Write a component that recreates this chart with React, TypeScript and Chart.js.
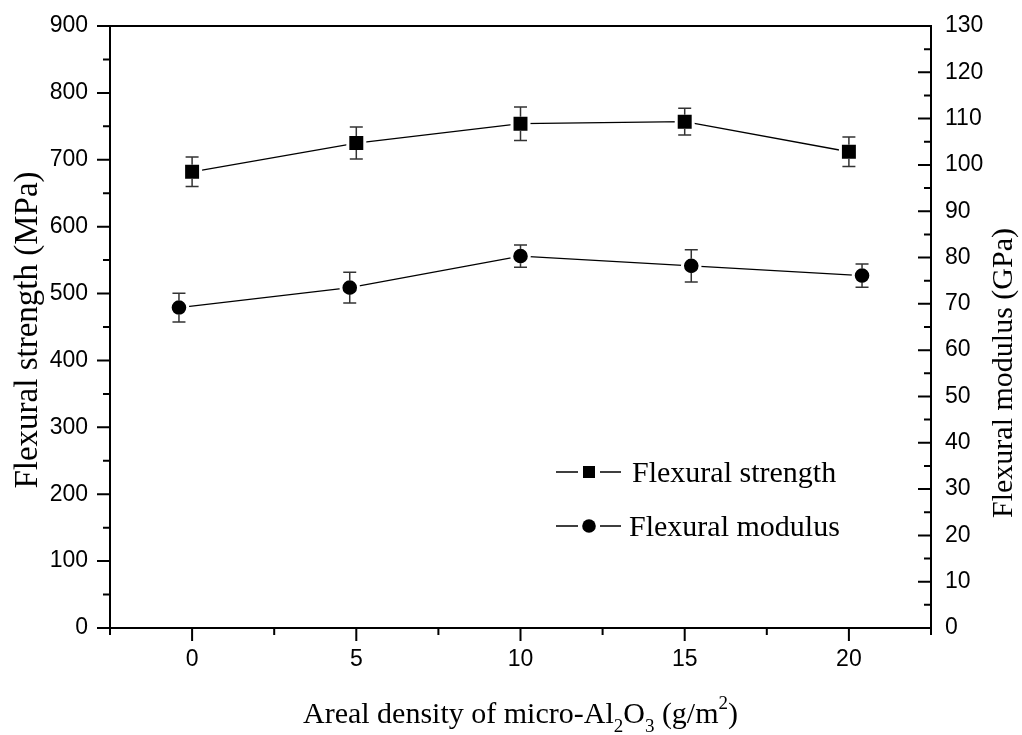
import React, { useEffect, useRef } from 'react';
import { Chart, registerables } from 'chart.js';

Chart.register(...registerables);

// ---- data ----
const strengthX = [0, 5, 10, 15, 20];
const strengthY = [682, 725, 754, 757, 712];
const strengthErr = [22, 24, 25, 20, 22];

const modulusX = [-0.4, 4.8, 10, 15.2, 20.4];
const modulusY = [69.2, 73.5, 80.3, 78.2, 76.1];
const modulusErr = [3.1, 3.3, 2.4, 3.5, 2.5];

const seriesLabels = ['Flexural strength', 'Flexural modulus'];

const xMajorTicks = [0, 5, 10, 15, 20];
const xMinorTicks = [-2.5, 2.5, 7.5, 12.5, 17.5, 22.5];
const leftMajorTicks = [0, 100, 200, 300, 400, 500, 600, 700, 800, 900];
const leftMinorTicks = [50, 150, 250, 350, 450, 550, 650, 750, 850];
const rightMajorTicks = [0, 10, 20, 30, 40, 50, 60, 70, 80, 90, 100, 110, 120, 130];
const rightMinorTicks = [5, 15, 25, 35, 45, 55, 65, 75, 85, 95, 105, 115, 125];

const leftTitle = 'Flexural strength (MPa)';
const rightTitle = 'Flexural modulus (GPa)';
const xTitleParts: { t: string; k: 'n' | 'sub' | 'sup' }[] = [
  { t: 'Areal density of micro-Al', k: 'n' },
  { t: '2', k: 'sub' },
  { t: 'O', k: 'n' },
  { t: '3', k: 'sub' },
  { t: ' (g/m', k: 'n' },
  { t: '2', k: 'sup' },
  { t: ')', k: 'n' },
];

const SERIF = '"Liberation Serif", "Times New Roman", serif';
const SANS = '"Liberation Sans", Arial, sans-serif';

const decorPlugin = {
  id: 'decor',
  afterDatasetsDraw(chart: any) {
    const ctx = chart.ctx as CanvasRenderingContext2D;
    const xs = chart.scales.x;
    const sets = [
      { xv: strengthX, yv: strengthY, ev: strengthErr, axis: 'y', half: 7 },
      { xv: modulusX, yv: modulusY, ev: modulusErr, axis: 'y1', half: 7 },
    ];
    ctx.save();
    ctx.strokeStyle = '#333';
    ctx.lineWidth = 1.5;
    for (const s of sets) {
      const ys = chart.scales[s.axis];
      s.xv.forEach((xv, i) => {
        const px = xs.getPixelForValue(xv);
        const pc = ys.getPixelForValue(s.yv[i]);
        const pt = ys.getPixelForValue(s.yv[i] + s.ev[i]);
        const pb = ys.getPixelForValue(s.yv[i] - s.ev[i]);
        ctx.beginPath();
        if (pc - s.half > pt) {
          ctx.moveTo(px, pt);
          ctx.lineTo(px, pc - s.half);
        }
        if (pc + s.half < pb) {
          ctx.moveTo(px, pc + s.half);
          ctx.lineTo(px, pb);
        }
        ctx.moveTo(px - 6.5, pt);
        ctx.lineTo(px + 6.5, pt);
        ctx.moveTo(px - 6.5, pb);
        ctx.lineTo(px + 6.5, pb);
        ctx.stroke();
      });
    }
    ctx.restore();
  },
  afterDraw(chart: any) {
    const ctx = chart.ctx as CanvasRenderingContext2D;
    const { left, right, top, bottom } = chart.chartArea;
    const xs = chart.scales.x;
    const yl = chart.scales.y;
    const yr = chart.scales.y1;
    ctx.save();
    ctx.strokeStyle = '#000';
    ctx.lineWidth = 2;
    // frame top
    ctx.beginPath();
    ctx.moveTo(left - 1, top);
    ctx.lineTo(right + 1, top);
    ctx.stroke();
    // left ticks (outward)
    ctx.beginPath();
    leftMajorTicks.forEach((v) => {
      const y = yl.getPixelForValue(v);
      ctx.moveTo(left - 13, y);
      ctx.lineTo(left, y);
    });
    leftMinorTicks.forEach((v) => {
      const y = yl.getPixelForValue(v);
      ctx.moveTo(left - 7, y);
      ctx.lineTo(left, y);
    });
    // right ticks (inward)
    rightMajorTicks.forEach((v) => {
      const y = yr.getPixelForValue(v);
      ctx.moveTo(right - 13, y);
      ctx.lineTo(right, y);
    });
    rightMinorTicks.forEach((v) => {
      const y = yr.getPixelForValue(v);
      ctx.moveTo(right - 7, y);
      ctx.lineTo(right, y);
    });
    // bottom ticks (outward)
    xMajorTicks.forEach((v) => {
      const x = xs.getPixelForValue(v);
      ctx.moveTo(x, bottom);
      ctx.lineTo(x, bottom + 13);
    });
    xMinorTicks.forEach((v) => {
      const x = xs.getPixelForValue(v);
      ctx.moveTo(x, bottom);
      ctx.lineTo(x, bottom + 7);
    });
    ctx.stroke();

    // titles
    ctx.fillStyle = '#000';
    ctx.textAlign = 'center';
    ctx.textBaseline = 'middle';
    ctx.save();
    ctx.font = `33px ${SERIF}`;
    ctx.translate(28, 330);
    ctx.rotate(-Math.PI / 2);
    ctx.fillText(leftTitle, 0, 0);
    ctx.restore();
    ctx.save();
    ctx.font = `30px ${SERIF}`;
    ctx.translate(1004, 373);
    ctx.rotate(-Math.PI / 2);
    ctx.fillText(rightTitle, 0, 0);
    ctx.restore();

    // x title with sub/superscripts
    const mainFont = `30px ${SERIF}`;
    const smallFont = `19px ${SERIF}`;
    let total = 0;
    xTitleParts.forEach((p) => {
      ctx.font = p.k === 'n' ? mainFont : smallFont;
      total += ctx.measureText(p.t).width;
    });
    let cx = (left + right) / 2 - total / 2;
    const base = 723;
    ctx.textAlign = 'left';
    ctx.textBaseline = 'alphabetic';
    xTitleParts.forEach((p) => {
      ctx.font = p.k === 'n' ? mainFont : smallFont;
      const dy = p.k === 'sub' ? 9 : p.k === 'sup' ? -14 : 0;
      ctx.fillText(p.t, cx, base + dy);
      cx += ctx.measureText(p.t).width;
    });

    // legend
    const rows = [
      { y: 472, base: 482, style: 'rect', label: chart.data.datasets[0].label, tx: 632 },
      { y: 526, base: 536, style: 'circle', label: chart.data.datasets[1].label, tx: 629 },
    ];
    rows.forEach((r) => {
      ctx.strokeStyle = '#000';
      ctx.lineWidth = 1.3;
      ctx.beginPath();
      ctx.moveTo(556, r.y);
      ctx.lineTo(578, r.y);
      ctx.moveTo(600, r.y);
      ctx.lineTo(621, r.y);
      ctx.stroke();
      ctx.fillStyle = '#000';
      ctx.beginPath();
      if (r.style === 'rect') {
        ctx.rect(583, r.y - 6, 12, 12);
      } else {
        ctx.arc(589, r.y, 6.8, 0, Math.PI * 2);
      }
      ctx.fill();
      ctx.font = `30px ${SERIF}`;
      ctx.textAlign = 'left';
      ctx.textBaseline = 'alphabetic';
      ctx.fillText(r.label, r.tx, r.base);
    });
    ctx.restore();
  },
};

export default function App() {
  const ref = useRef<HTMLCanvasElement>(null);
  useEffect(() => {
    const canvas = ref.current;
    if (!canvas) return;
    const chart = new Chart(canvas, {
      type: 'line',
      data: {
        datasets: [
          {
            label: seriesLabels[0],
            data: strengthX.map((x, i) => ({ x, y: strengthY[i] })),
            yAxisID: 'y',
            borderColor: '#000',
            borderWidth: 1.3,
            pointStyle: 'rect',
            pointRadius: 12,
            pointHoverRadius: 12,
            pointBackgroundColor: '#000',
            pointBorderColor: '#fff',
            pointBorderWidth: 3,
            fill: false,
            tension: 0,
          },
          {
            label: seriesLabels[1],
            data: modulusX.map((x, i) => ({ x, y: modulusY[i] })),
            yAxisID: 'y1',
            borderColor: '#000',
            borderWidth: 1.3,
            pointStyle: 'circle',
            pointRadius: 8.8,
            pointHoverRadius: 8.8,
            pointBackgroundColor: '#000',
            pointBorderColor: '#fff',
            pointBorderWidth: 3,
            fill: false,
            tension: 0,
          },
        ],
      },
      options: {
        animation: false,
        responsive: false,
        maintainAspectRatio: false,
        devicePixelRatio: 1,
        layout: { padding: { top: 26, left: 0, right: 0, bottom: 0 } },
        plugins: {
          legend: { display: false },
          tooltip: { enabled: false },
        },
        events: [],
        scales: {
          x: {
            type: 'linear',
            min: -2.5,
            max: 22.5,
            afterBuildTicks: (s: any) => {
              s.ticks = xMajorTicks.map((value) => ({ value }));
            },
            afterFit: (s: any) => {
              s.height = 107;
              s.paddingLeft = 0;
              s.paddingRight = 0;
            },
            ticks: {
              autoSkip: false,
              maxRotation: 0,
              padding: 18,
              color: '#000',
              font: { family: SANS, size: 23 },
            },
            grid: { display: false, drawTicks: false },
            border: { display: true, color: '#000', width: 2 },
          },
          y: {
            type: 'linear',
            position: 'left',
            min: 0,
            max: 900,
            afterBuildTicks: (s: any) => {
              s.ticks = leftMajorTicks.map((value) => ({ value }));
            },
            afterFit: (s: any) => {
              s.width = 110;
              s.paddingTop = 0;
              s.paddingBottom = 0;
            },
            ticks: {
              padding: 22,
              color: '#000',
              font: { family: SANS, size: 23 },
            },
            grid: { display: false, drawTicks: false },
            border: { display: true, color: '#000', width: 2 },
          },
          y1: {
            type: 'linear',
            position: 'right',
            min: 0,
            max: 130,
            afterBuildTicks: (s: any) => {
              s.ticks = rightMajorTicks.map((value) => ({ value }));
            },
            afterFit: (s: any) => {
              s.width = 91;
              s.paddingTop = 0;
              s.paddingBottom = 0;
            },
            ticks: {
              padding: 14,
              color: '#000',
              font: { family: SANS, size: 23 },
            },
            grid: { display: false, drawTicks: false },
            border: { display: true, color: '#000', width: 2 },
          },
        },
      },
      plugins: [decorPlugin],
    } as any);
    return () => chart.destroy();
  }, []);
  return (
    <div style={{ position: 'fixed', left: 0, top: 0, width: 1022, height: 735, background: '#fff' }}>
      <canvas ref={ref} width={1022} height={735} style={{ display: 'block', width: 1022, height: 735 }} />
    </div>
  );
}
